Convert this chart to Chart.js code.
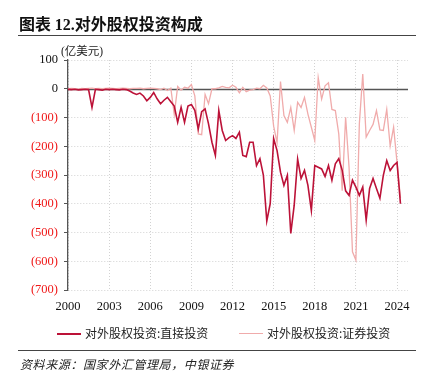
<!DOCTYPE html>
<html>
<head>
<meta charset="utf-8">
<script src="https://cdn.jsdelivr.net/npm/chart.js@4.4.1/dist/chart.umd.min.js"></script>
<style>
body { margin: 0; background: #fff; }
#wrap { position: relative; width: 422px; height: 376px; overflow: hidden; }
#equityChart { position: absolute; left: 0; top: 0; }
.rule { position: absolute; left: 18px; width: 398px; height: 0; border-top: 1.5px solid #444; }
#title { position: absolute; left: 19px; top: 11px; font: bold 16px "Noto Sans CJK SC", sans-serif; color: #111; white-space: nowrap; }
#title b { font-family: "Liberation Serif", serif; }
#unit { position: absolute; left: 61px; top: 42px; font: 11.5px "Liberation Serif", "Noto Sans CJK SC", serif; color: #222; }
#legend { position: absolute; top: 324px; left: 0; width: 422px; font: 12px "Noto Sans CJK SC", sans-serif; color: #222; }
.lg { position: absolute; white-space: nowrap; }
.lg i { display: inline-block; width: 24px; height: 0; vertical-align: middle; margin-right: 4px; position: relative; top: -1px; }
#source { position: absolute; left: 20px; top: 355px; font: italic 12px "Noto Sans CJK SC", sans-serif; color: #222; letter-spacing: 0.6px; }
</style>
</head>
<body>
<div id="wrap">
  <canvas id="equityChart" width="422" height="376"></canvas>
  <div id="title">图表 <b>12.</b>对外股权投资构成</div>
  <div class="rule" style="top:35px"></div>
  <div id="unit">(亿美元)</div>
  <div id="legend">
    <span class="lg" style="left:57px"><i style="border-top:2px solid #BC1238"></i>对外股权投资:直接投资</span>
    <span class="lg" style="left:239px"><i style="border-top:1.5px solid #F0ABAB"></i>对外股权投资:证券投资</span>
  </div>
  <div class="rule" style="top:350px"></div>
  <div id="source">资料来源：国家外汇管理局，中银证券</div>
</div>
<script>
// 对外股权投资构成 (季度, 亿美元)

// x축 연도 눈금
const xTickYears = [2000, 2003, 2006, 2009, 2012, 2015, 2018, 2021, 2024];

// 직접투자
const directInvest = [
  -2, -3, -2, -4, -3, -2, -3, -65, -2, -3,
  -5, -2, -3, -2, -3, -4, -2, -3, -8, -15,
  -20, -15, -25, -42, -30, -13, -35, -52, -40, -30,
  -45, -60, -117, -65, -117, -60, -55, -75, -140, -80,
  -70, -122, -186, -232, -76, -145, -180, -170, -163, -173,
  -151, -232, -236, -186, -186, -267, -243, -300, -460, -400,
  -173, -215, -290, -336, -301, -503, -405, -245, -312, -284,
  -336, -423, -267, -273, -279, -305, -267, -318, -261, -243,
  -284, -355, -371, -318, -342, -371, -342, -457, -347, -312,
  -347, -381, -301, -250, -284, -267, -256, -400
];

// 증권투자
const portfolioInvest = [
  0, 1, 0, -1, 1, 0, 1, 2, 0, 1,
  0, 1, 2, 1, 0, 1, 2, 1, 0, 1,
  1, 2, 0, 1, 2, 1, 0, -3, 2, -6,
  2, -90, 8, -5, 5, 2, 15, -25, -157, -160,
  -20, -52, 0, 0, 3, 8, 5, 3, 12, 5,
  -14, 5, -10, -5, -3, 2, 0, 12, 3, -25,
  -130, -188, 25, -93, -117, -65, -145, -47, -65, -30,
  -88, -134, -180, 39, -36, 10, 21, -72, -76, -157,
  -355, -99, -273, -567, -596, -123, 51, -168, -145, -124,
  -76, -143, -145, -72, -199, -134, -256, -380
];

// 분기 라벨 (2000Q1 = 2000, 2000Q2 = 2000.25 ...)
const quarters = [];
for (let i = 0; i < directInvest.length; i++) {
  quarters.push(2000 + i / 4);
}

// 0 기준선
const zeroLine = {
  id: 'zeroLine',
  beforeDatasetsDraw(chart) {
    const { ctx, chartArea, scales } = chart;
    const y = Math.round(scales.y.getPixelForValue(0)) + 0.5;
    ctx.save();
    ctx.strokeStyle = '#555';
    ctx.lineWidth = 1.3;
    ctx.beginPath();
    ctx.moveTo(chartArea.left, y);
    ctx.lineTo(chartArea.right, y);
    ctx.stroke();
    ctx.restore();
  }
};

const ctxA = document.getElementById('equityChart');
const equityChart = new Chart(ctxA, {
  type: 'line',
  data: {
    labels: quarters,
    datasets: [{
      label: '对外股权投资:直接投资',
      data: directInvest,
      borderColor: '#BC1238',
      borderWidth: 1.6,
      pointRadius: 0,
      tension: 0
    },
    {
      label: '对外股权投资:证券投资',
      data: portfolioInvest,
      borderColor: '#F0ABAB',
      borderWidth: 1.3,
      pointRadius: 0,
      tension: 0
    }]
  },
  options: {
    responsive: false,
    animation: false,
    layout: { padding: { top: 60, right: 14, left: 0, bottom: 0 } },
    scales: {
      x: {
        type: 'linear',
        min: 2000,
        max: 2024.8,
        afterBuildTicks: (scale) => { scale.ticks = xTickYears.map(v => ({ value: v })); },
        afterFit: (scale) => { scale.height = 86; },
        ticks: {
          maxRotation: 0,
          padding: 9,
          color: '#111',
          font: { family: 'Liberation Serif', size: 12.5 },
          callback: (v) => String(v)
        },
        grid: { color: '#d2d2d2', drawTicks: false, lineWidth: 1 },
        border: { display: false, dash: [1, 2] }
      },
      y: {
        min: -700,
        max: 100,
        afterFit: (scale) => { scale.width = 68; },
        ticks: {
          stepSize: 100,
          padding: 6,
          font: { family: 'Liberation Serif', size: 12.5 },
          color: (c) => (c.tick && c.tick.value < 0 ? '#F01818' : '#111'),
          callback: (v) => (v < 0 ? '(' + (-v) + ')' : String(v))
        },
        grid: {
          color: (c) => (c.tick && c.tick.value === 0 ? 'rgba(0,0,0,0)' : '#d2d2d2'),
          tickColor: '#555',
          tickLength: 4,
          lineWidth: 1
        },
        border: { display: true, color: '#555', width: 1.3, dash: [1, 2] }
      }
    },
    plugins: {
      legend: { display: false },
      title: { display: false },
      tooltip: { enabled: false }
    }
  },
  plugins: [zeroLine]
});
</script>
</body>
</html>
